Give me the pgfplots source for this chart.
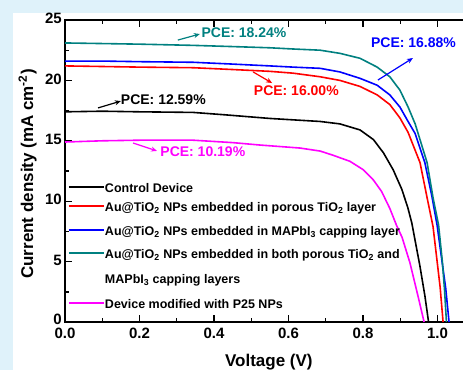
\documentclass[border=0pt]{standalone}
\usepackage{fontspec}
\setmainfont{Liberation Sans}
\usepackage{pgfplots}
\pgfplotsset{compat=1.18}
\usetikzlibrary{arrows.meta}
\definecolor{bgblue}{RGB}{223,242,250}
\definecolor{cteal}{RGB}{0,128,128}
\definecolor{cmag}{RGB}{255,0,255}
\definecolor{cred}{RGB}{255,0,0}
\definecolor{cblue}{RGB}{0,0,255}
\begin{document}
\begin{tikzpicture}
\useasboundingbox (0,0) rectangle (463pt,370pt);
\fill[bgblue] (0,0) rectangle (463pt,370pt);
\fill[white] (13pt,0) rectangle (463pt,357pt);
\clip (0,0) rectangle (463pt,370pt);
\begin{axis}[
  at={(65pt,48pt)}, anchor=south west,
  x=372.5pt, y=12.08pt,
  xmin=0, xmax=1.1, ymin=0, ymax=25,
  xtick={0,0.2,0.4,0.6,0.8,1.0},
  ytick={0,5,10,15,20,25},
  yticklabels={\raisebox{2.5pt}{0},5,10,15,20,25},
  minor x tick num=1, minor y tick num=1,
  major tick length=7pt, minor tick length=4pt,
  tick style={line width=1.4pt, black},
  axis line style={line width=2pt},
  /pgf/number format/assume math mode=true,
  tick label style={font=\fontsize{15}{18}\selectfont\bfseries},
  xticklabel style={yshift=-2.5pt, /pgf/number format/fixed, /pgf/number format/fixed zerofill, /pgf/number format/precision=1},
  yticklabel style={yshift=1.5pt, xshift=-1pt, inner sep=2pt},
  xlabel={Voltage (V)},
  ylabel={Current density (mA cm\textsuperscript{-2})},
  label style={font=\fontsize{17}{20}\selectfont\bfseries},
  xlabel style={at={(axis description cs:0.4976,-0.147)}, anchor=base},
  ylabel style={at={(axis description cs:-0.078,0.49)}, anchor=base, rotate=0},
  legend style={at={(axis cs:0.008,11.51)}, anchor=north west, draw=none, fill=none,
    inner sep=0pt, outer sep=0pt, row sep=9pt, column sep=0pt,
    font=\fontsize{12.5}{15}\selectfont\bfseries,
    cells={anchor=base west},
    nodes={inner sep=0pt, text height=10pt, text depth=3pt}},
  legend image code/.code={\draw[#1, line width=2pt] (3pt,5.5pt) -- (38pt,5.5pt);},
  every legend image post/.style={line width=2pt},
  every axis plot/.append style={line width=1.6pt},
]
\addplot[black] coordinates {(0,17.4)(0.1,17.45)(0.2,17.4)(0.344,17.35)(0.43,17.15)(0.55,16.85)(0.685,16.6)(0.738,16.4)(0.792,15.9)(0.828,15.1)(0.855,14.0)(0.881,12.6)(0.904,11.0)(0.920,9.5)(0.931,8.2)(0.953,4.6)(0.966,2.2)(0.976,0)};
\addlegendentry[text depth=0pt]{Control Device}
\addplot[cred] coordinates {(0,21.2)(0.1,21.15)(0.2,21.1)(0.344,21.05)(0.45,20.9)(0.55,20.75)(0.612,20.6)(0.685,20.3)(0.738,20.0)(0.792,19.5)(0.838,18.8)(0.872,18.0)(0.899,16.9)(0.921,15.7)(0.953,13.2)(0.972,10.3)(0.988,7.9)(1.007,2.9)(1.015,0)};
\addlegendentry[text depth=5pt]{Au@TiO\textsubscript{2} NPs embedded in porous TiO\textsubscript{2} layer}
\addplot[cblue] coordinates {(0,21.6)(0.1,21.6)(0.2,21.55)(0.344,21.5)(0.45,21.35)(0.55,21.2)(0.612,21.1)(0.685,21.0)(0.738,20.7)(0.792,20.17)(0.838,19.6)(0.872,18.8)(0.899,17.8)(0.921,16.6)(0.940,15.6)(0.966,13.2)(0.985,10.4)(0.999,8.0)(1.010,5.5)(1.022,2.8)(1.031,0)};
\addlegendentry[text depth=4pt]{Au@TiO\textsubscript{2} NPs embedded in MAPbI\textsubscript{3} capping layer}
\addplot[cteal] coordinates {(0,23.1)(0.1,23.05)(0.2,23.0)(0.344,22.9)(0.45,22.8)(0.55,22.7)(0.612,22.6)(0.685,22.5)(0.738,22.24)(0.792,21.83)(0.838,21.1)(0.872,20.3)(0.899,19.2)(0.921,17.8)(0.940,16.4)(0.953,15.1)(0.972,13.2)(0.988,10.3)(1.003,8.0)(1.013,5.0)(1.019,2.6)(1.024,0)};
\addlegendentry[text depth=31pt]{\begin{tabular}[t]{@{}l@{}}Au@TiO\textsubscript{2} NPs embedded in both porous TiO\textsubscript{2} and\\[10pt]MAPbI\textsubscript{3} capping layers\end{tabular}}
\addplot[cmag] coordinates {(0,14.9)(0.1,15.0)(0.2,15.05)(0.344,15.05)(0.45,14.85)(0.523,14.65)(0.631,14.4)(0.685,14.15)(0.720,13.8)(0.765,13.3)(0.801,12.6)(0.828,11.75)(0.850,10.8)(0.872,9.4)(0.890,8.0)(0.905,7.0)(0.926,4.9)(0.948,2.1)(0.964,0)};
\addlegendentry[text depth=3pt]{Device modified with P25 NPs}
% annotations
\begin{scope}[font=\fontsize{14}{16}\selectfont\bfseries]
\node[text=cteal] at (axis cs:0.4805,23.92) {PCE: 18.24\%};
\draw[cteal, line width=1.2pt, -{Stealth[length=6pt,width=5pt]}] (axis cs:0.303,23.34) -- (axis cs:0.362,23.84);
\node[text=cblue] at (axis cs:0.9356,23.10) {PCE: 16.88\%};
\draw[cblue, line width=1.2pt, -{Stealth[length=6pt,width=5pt]}] (axis cs:0.840,20.03) -- (axis cs:0.934,21.85);
\node[text=cred] at (axis cs:0.621,19.12) {PCE: 16.00\%};
\draw[cred, line width=1.2pt, -{Stealth[length=6pt,width=5pt]}] (axis cs:0.505,20.70) -- (axis cs:0.556,19.78);
\node[text=black] at (axis cs:0.264,18.38) {PCE: 12.59\%};
\draw[black, line width=1.2pt, -{Stealth[length=6pt,width=5pt]}] (axis cs:0.0886,17.72) -- (axis cs:0.150,18.29);
\node[text=cmag] at (axis cs:0.370,14.07) {PCE: 10.19\%};
\draw[cmag, line width=1.2pt, -{Stealth[length=6pt,width=5pt]}] (axis cs:0.1826,14.82) -- (axis cs:0.247,14.16);
\end{scope}
\end{axis}
\end{tikzpicture}
\end{document}
